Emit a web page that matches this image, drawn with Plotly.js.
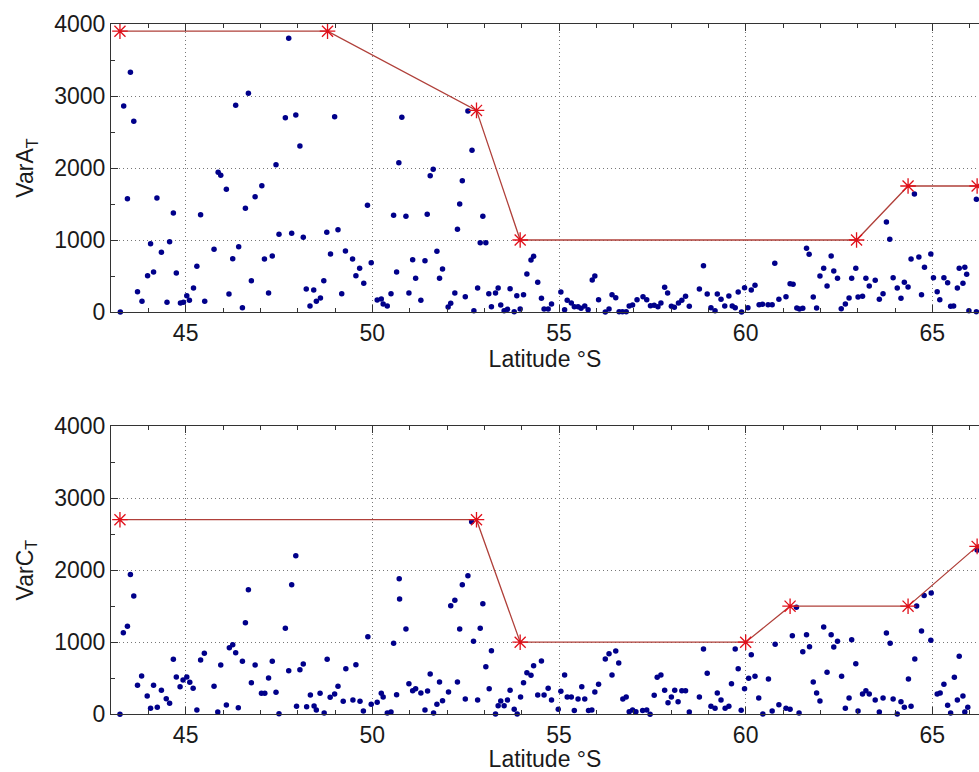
<!DOCTYPE html>
<html>
<head>
<meta charset="utf-8">
<script src="https://cdn.plot.ly/plotly-3.0.1.min.js"></script>
<style>html,body{margin:0;padding:0;background:#fff;overflow:hidden}#chart{width:979px;height:772px}</style>
</head>
<body>
<div id="chart"></div>
<script>
// ---- Data: panel A (VarA_T) ----
const latA = [43.25,43.34,43.44,43.52,43.61,43.71,43.83,43.98,44.06,44.14,44.23,44.35,44.50,44.57,44.67,44.75,44.86,44.94,45.03,45.10,45.21,45.30,45.40,45.51,45.76,45.87,45.94,46.09,46.16,46.26,46.34,46.42,46.52,46.60,46.68,46.76,46.86,47.04,47.11,47.22,47.32,47.42,47.50,47.67,47.76,47.84,47.95,48.06,48.15,48.23,48.33,48.43,48.50,48.61,48.70,48.78,48.88,48.99,49.08,49.18,49.28,49.47,49.56,49.66,49.77,49.87,49.97,50.13,50.24,50.29,50.40,50.50,50.57,50.65,50.71,50.79,50.90,50.98,51.08,51.16,51.30,51.41,51.47,51.55,51.63,51.73,51.80,51.88,52.03,52.10,52.21,52.28,52.34,52.41,52.49,52.56,52.67,52.72,52.82,52.89,52.96,53.04,53.12,53.19,53.30,53.37,53.44,53.53,53.62,53.69,53.80,53.87,53.96,54.05,54.14,54.25,54.32,54.43,54.53,54.60,54.71,54.80,55.05,55.15,55.22,55.33,55.41,55.51,55.59,55.69,55.78,55.89,55.96,56.06,56.24,56.34,56.42,56.52,56.61,56.70,56.80,56.88,56.97,57.09,57.25,57.35,57.45,57.55,57.65,57.73,57.83,57.91,58.01,58.09,58.20,58.29,58.39,58.49,58.76,58.87,58.97,59.07,59.18,59.24,59.34,59.44,59.55,59.64,59.72,59.80,59.89,59.97,60.06,60.15,60.25,60.36,60.45,60.60,60.71,60.78,60.89,61.08,61.19,61.27,61.37,61.44,61.53,61.63,61.70,61.81,61.90,61.99,62.09,62.18,62.29,62.36,62.46,62.56,62.67,62.77,62.84,62.95,63.01,63.13,63.22,63.31,63.47,63.58,63.68,63.77,63.86,63.95,64.06,64.16,64.25,64.35,64.43,64.52,64.64,64.71,64.79,64.96,65.03,65.13,65.20,65.31,65.41,65.49,65.57,65.67,65.72,65.82,65.87,65.92,65.98,66.18,66.18];
const varA = [0,2861,1574,3329,2648,282,148,504,949,556,1583,829,135,977,1375,542,125,135,226,162,333,635,1352,148,871,1940,1898,1704,250,740,2870,907,60,1440,3037,435,1601,1754,736,264,778,2046,1079,2699,3801,1093,2736,2306,1037,319,83,306,148,194,435,1107,806,2713,1143,254,847,736,504,607,399,1481,685,167,181,111,83,254,1343,556,2074,2704,1329,264,727,468,162,713,1357,1893,1982,843,468,597,69,121,264,1148,1500,1824,213,2792,2246,18,333,963,1329,963,254,74,264,333,97,18,37,324,5,226,42,240,528,722,773,412,190,42,42,111,278,32,162,125,74,74,51,83,32,444,500,171,0,42,240,199,5,5,5,83,97,171,213,171,88,93,74,125,343,264,79,65,125,162,218,79,319,643,250,60,18,250,176,83,222,83,60,278,0,338,60,306,371,102,106,102,102,676,176,213,393,384,56,42,51,884,801,208,56,500,607,361,778,569,468,46,111,194,468,607,208,218,468,361,440,176,254,1250,1010,477,333,190,412,347,736,1639,764,240,621,806,477,282,171,477,407,79,83,333,607,399,621,524,18,1565,5];

// threshold line, panel A
const stepLatA = [43.24, 48.80, 52.79, 53.96, 62.97, 64.35, 66.20];
const stepA    = [3900, 3900, 2800, 1000, 1000, 1750, 1750];

// ---- Data: panel C (VarC_T) ----
const latC = [43.24,43.33,43.44,43.52,43.61,43.71,43.82,43.97,44.06,44.14,44.24,44.35,44.48,44.57,44.67,44.75,44.85,44.93,45.03,45.11,45.20,45.30,45.40,45.50,45.76,45.86,45.94,46.09,46.17,46.26,46.34,46.41,46.52,46.60,46.68,46.76,46.86,47.03,47.12,47.22,47.32,47.42,47.50,47.67,47.76,47.84,47.95,47.97,48.06,48.15,48.24,48.34,48.44,48.50,48.60,48.71,48.79,48.87,48.99,49.08,49.22,49.29,49.48,49.56,49.67,49.76,49.88,49.97,50.13,50.24,50.29,50.40,50.50,50.57,50.65,50.72,50.73,50.90,50.98,51.08,51.16,51.30,51.41,51.48,51.55,51.64,51.73,51.80,51.88,52.04,52.10,52.21,52.28,52.34,52.41,52.49,52.56,52.66,52.71,52.82,52.89,52.96,53.04,53.13,53.19,53.30,53.37,53.44,53.53,53.62,53.69,53.80,53.88,53.97,54.05,54.14,54.25,54.32,54.43,54.53,54.60,54.71,54.80,54.98,55.05,55.15,55.22,55.33,55.41,55.51,55.61,55.69,55.79,55.88,55.96,56.06,56.24,56.34,56.42,56.52,56.60,56.71,56.80,56.88,56.97,57.06,57.24,57.35,57.44,57.55,57.63,57.73,57.83,57.92,58.01,58.10,58.19,58.29,58.39,58.49,58.76,58.87,58.97,59.07,59.18,59.24,59.34,59.45,59.55,59.62,59.72,59.80,59.88,59.97,60.08,60.15,60.25,60.35,60.46,60.61,60.71,60.79,60.89,61.08,61.19,61.25,61.36,61.43,61.53,61.63,61.71,61.81,61.90,61.99,62.09,62.18,62.29,62.36,62.46,62.57,62.67,62.77,62.84,62.95,63.01,63.13,63.22,63.31,63.47,63.58,63.68,63.77,63.87,63.95,64.06,64.16,64.25,64.36,64.43,64.53,64.58,64.71,64.78,64.96,64.97,65.13,65.21,65.31,65.41,65.49,65.59,65.67,65.72,65.82,65.87,65.95,66.20];
const varC = [0,1132,1220,1941,1641,402,531,254,83,402,97,333,216,153,763,517,383,476,517,444,360,60,753,846,388,32,684,129,924,965,854,92,735,1271,1728,438,684,291,291,503,735,305,8,1193,605,1798,2200,111,619,698,105,268,115,60,291,18,763,236,282,388,180,632,198,688,180,46,1076,139,166,291,240,18,32,985,272,1881,1599,1183,424,327,355,295,60,323,559,18,139,448,189,309,1506,1581,448,1183,1798,212,1922,2671,1012,198,1193,1534,660,355,882,4,120,184,120,198,333,69,4,240,438,577,541,674,268,739,268,361,198,69,319,545,240,240,51,212,383,212,51,60,309,416,767,841,545,878,711,212,240,37,60,37,51,60,0,263,513,545,333,161,240,333,175,327,327,32,240,906,568,111,83,295,198,83,111,424,906,632,55,355,499,827,527,226,4,490,46,971,134,83,69,1090,1484,18,868,1104,938,448,295,184,1211,582,1104,933,1012,527,83,226,1035,702,46,282,327,282,198,32,226,1128,985,212,4,175,97,490,111,767,1502,1155,1650,1026,1682,282,295,416,125,18,513,198,804,254,32,97,2279];

// threshold line, panel C
const stepLatC = [43.24, 52.79, 53.96, 60.00, 61.19, 64.35, 66.20];
const stepC    = [2700, 2700, 1000, 1000, 1500, 1500, 2330];

// tick labels
const xTicks = [45, 50, 55, 60, 65];
const yTicks = [0, 1000, 2000, 3000, 4000];

// ---- Styling ----
const FONT = 'Arial, "Liberation Sans", Helvetica, sans-serif';
const tickFont = {family: FONT, size: 23, color: '#1a1a1a'};
const dotStyle = {color: '#00008a', size: 5.5};
const lineColor = '#b0403a';
const starStyle = {symbol: 'asterisk-open', size: 13, color: '#e0101a', line: {color: '#e0101a', width: 1.3}};

function xAxis(domainAnchor) {
  return {
    anchor: domainAnchor, domain: [111/979, 1], range: [43, 66.25],
    tickvals: xTicks, ticktext: xTicks.map(String), ticks: 'inside', ticklen: 7, tickcolor: '#333',
    minor: {dtick: 1, tick0: 43, ticks: 'inside', ticklen: 4, tickcolor: '#333', showgrid: false},
    showgrid: true, gridcolor: '#777', griddash: '1px,3px', gridwidth: 1,
    showline: true, linecolor: '#333', linewidth: 1, mirror: 'ticks',
    zeroline: false, tickfont: tickFont, automargin: false,
    title: {text: 'Latitude °S', font: tickFont, standoff: 6}
  };
}
function yAxis(domain, anchor, title) {
  return {
    anchor: anchor, domain: domain, range: [0, 4000],
    tickvals: yTicks, ticktext: yTicks.map(String), ticks: 'inside', ticklen: 7, tickcolor: '#333',
    minor: {dtick: 500, tick0: 0, ticks: 'inside', ticklen: 4, tickcolor: '#333', showgrid: false},
    showgrid: true, gridcolor: '#777', griddash: '1px,3px', gridwidth: 1,
    showline: true, linecolor: '#333', linewidth: 1, mirror: false,
    zeroline: false, tickfont: tickFont, automargin: false,
    title: {text: title, font: tickFont, standoff: 14}
  };
}

const H = 772;
const traces = [
  {x: latA, y: varA, xaxis: 'x', yaxis: 'y', mode: 'markers', type: 'scatter', marker: dotStyle, cliponaxis: false, hoverinfo: 'x+y'},
  {x: stepLatA, y: stepA, xaxis: 'x', yaxis: 'y', mode: 'lines+markers', type: 'scatter', line: {color: lineColor, width: 1.3}, marker: starStyle, cliponaxis: false},
  {x: latC, y: varC, xaxis: 'x2', yaxis: 'y2', mode: 'markers', type: 'scatter', marker: dotStyle, cliponaxis: false, hoverinfo: 'x+y'},
  {x: stepLatC, y: stepC, xaxis: 'x2', yaxis: 'y2', mode: 'lines+markers', type: 'scatter', line: {color: lineColor, width: 1.3}, marker: starStyle, cliponaxis: false}
];

const layout = {
  width: 979, height: 772,
  margin: {l: 0, r: 0, t: 0, b: 0, pad: 0},
  paper_bgcolor: '#ffffff', plot_bgcolor: '#ffffff',
  showlegend: false,
  font: {family: FONT, color: '#1a1a1a'},
  xaxis: xAxis('y'),
  yaxis: yAxis([(H-312)/H, (H-24)/H], 'x', 'VarA<sub>T</sub>'),
  xaxis2: xAxis('y2'),
  yaxis2: yAxis([(H-714.3)/H, (H-426)/H], 'x2', 'VarC<sub>T</sub>')
};

Plotly.newPlot('chart', traces, layout, {displayModeBar: false, staticPlot: true});
</script>
</body>
</html>
